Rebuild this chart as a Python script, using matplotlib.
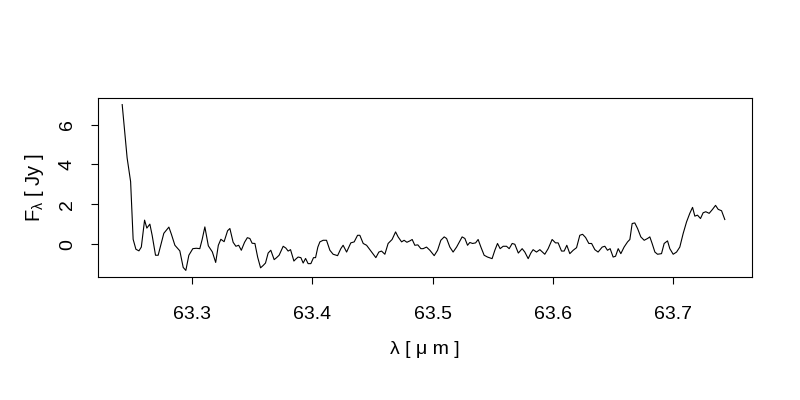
import numpy as np
import matplotlib
matplotlib.use("Agg")
import matplotlib.pyplot as plt

# Spectrum (wavelength in micron, flux in Jy)
wavelength = [
    63.2421, 63.2462, 63.2491, 63.2512, 63.2535, 63.2560, 63.2580, 63.2607, 63.2626, 63.2651,
    63.2670, 63.2698, 63.2720, 63.2767, 63.2809, 63.2830, 63.2859, 63.2900, 63.2928, 63.2950,
    63.2975, 63.3008, 63.3037, 63.3066, 63.3086, 63.3108, 63.3137, 63.3170, 63.3198, 63.3220,
    63.3241, 63.3268, 63.3297, 63.3316, 63.3343, 63.3366, 63.3389, 63.3411, 63.3438, 63.3461,
    63.3482, 63.3501, 63.3524, 63.3547, 63.3571, 63.3593, 63.3612, 63.3634, 63.3656, 63.3684,
    63.3704, 63.3725, 63.3759, 63.3781, 63.3800, 63.3820, 63.3848, 63.3864, 63.3883, 63.3906,
    63.3925, 63.3945, 63.3966, 63.3989, 63.4011, 63.4028, 63.4047, 63.4064, 63.4091, 63.4119,
    63.4147, 63.4174, 63.4211, 63.4238, 63.4257, 63.4286, 63.4321, 63.4349, 63.4377, 63.4396,
    63.4424, 63.4452, 63.4479, 63.4507, 63.4529, 63.4554, 63.4576, 63.4604, 63.4631, 63.4664,
    63.4693, 63.4714, 63.4743, 63.4764, 63.4787, 63.4812, 63.4831, 63.4853, 63.4878, 63.4903,
    63.4922, 63.4950, 63.4978, 63.5014, 63.5042, 63.5069, 63.5097, 63.5117, 63.5144, 63.5171,
    63.5200, 63.5219, 63.5246, 63.5269, 63.5291, 63.5310, 63.5333, 63.5358, 63.5379, 63.5402,
    63.5429, 63.5457, 63.5495, 63.5518, 63.5540, 63.5562, 63.5587, 63.5615, 63.5637, 63.5662,
    63.5684, 63.5713, 63.5745, 63.5767, 63.5795, 63.5817, 63.5836, 63.5864, 63.5892, 63.5933,
    63.5961, 63.5994, 63.6022, 63.6044, 63.6072, 63.6094, 63.6116, 63.6141, 63.6169, 63.6197,
    63.6224, 63.6247, 63.6272, 63.6299, 63.6322, 63.6349, 63.6376, 63.6410, 63.6432, 63.6454,
    63.6476, 63.6501, 63.6521, 63.6543, 63.6565, 63.6592, 63.6621, 63.6640, 63.6659, 63.6681,
    63.6704, 63.6731, 63.6759, 63.6787, 63.6806, 63.6825, 63.6848, 63.6870, 63.6903, 63.6925,
    63.6953, 63.6972, 63.7000, 63.7028, 63.7055, 63.7083, 63.7111, 63.7138, 63.7161, 63.7180,
    63.7202, 63.7227, 63.7249, 63.7271, 63.7299, 63.7327, 63.7352, 63.7374, 63.7402, 63.7429,
]

flux = [
    7.00, 4.33, 3.14, 0.25, -0.25, -0.33, -0.14, 1.21, 0.81, 1.01,
    0.45, -0.55, -0.55, 0.55, 0.86, 0.50, -0.05, -0.33, -1.16, -1.31,
    -0.55, -0.22, -0.20, -0.22, 0.25, 0.87, -0.08, -0.38, -0.91, -0.05,
    0.25, 0.13, 0.68, 0.79, 0.10, -0.10, -0.05, -0.30, 0.10, 0.33,
    0.29, 0.05, 0.04, -0.65, -1.18, -1.06, -0.94, -0.44, -0.30, -0.77,
    -0.67, -0.55, -0.10, -0.19, -0.34, -0.27, -0.84, -0.74, -0.64, -0.67,
    -0.94, -0.71, -0.97, -0.97, -0.67, -0.67, -0.14, 0.12, 0.20, 0.20,
    -0.30, -0.50, -0.57, -0.22, -0.05, -0.39, 0.07, 0.12, 0.45, 0.45,
    0.04, -0.05, -0.27, -0.50, -0.67, -0.39, -0.34, -0.50, 0.04, 0.24,
    0.62, 0.37, 0.12, 0.20, 0.10, 0.17, 0.24, -0.05, -0.03, -0.22,
    -0.22, -0.14, -0.30, -0.57, -0.30, 0.20, 0.37, 0.29, -0.14, -0.39,
    -0.14, 0.07, 0.37, 0.29, -0.05, 0.09, 0.04, 0.07, 0.24, -0.14,
    -0.55, -0.64, -0.72, -0.30, 0.04, -0.22, -0.10, -0.10, -0.22, 0.04,
    0.00, -0.44, -0.22, -0.39, -0.72, -0.44, -0.27, -0.39, -0.27, -0.50,
    -0.22, 0.24, 0.07, 0.07, -0.34, -0.34, -0.05, -0.47, -0.30, -0.17,
    0.45, 0.50, 0.34, 0.04, 0.04, -0.27, -0.39, -0.14, -0.10, -0.30,
    -0.22, -0.64, -0.60, -0.22, -0.47, -0.14, 0.12, 0.24, 1.04, 1.07,
    0.79, 0.37, 0.20, 0.29, 0.37, 0.04, -0.39, -0.50, -0.47, 0.04,
    0.17, -0.22, -0.50, -0.39, -0.14, 0.54, 1.12, 1.55, 1.85, 1.41,
    1.46, 1.29, 1.58, 1.63, 1.55, 1.75, 1.95, 1.75, 1.68, 1.24,
]

x_ticks = [63.3, 63.4, 63.5, 63.6, 63.7]
y_ticks = [0, 2, 4, 6]

plt.rcParams["font.family"] = ["Liberation Sans", "DejaVu Sans"]
plt.rcParams["mathtext.fontset"] = "custom"
plt.rcParams["mathtext.rm"] = "Liberation Sans"
plt.rcParams["mathtext.it"] = "Liberation Sans"

fig = plt.figure(figsize=(8, 4), dpi=100)
ax = fig.add_axes([0.1225, 0.3075, 0.8175, 0.4475])

ax.plot(wavelength, flux, color="black", linewidth=0.8)

# R-style limits: 4% padding around the data
ax.set_xlim(63.222, 63.7655)
ax.set_ylim(-1.64, 7.33)

ax.set_xticks(x_ticks)
ax.set_xticklabels([f"{t:.1f}" for t in x_ticks])
ax.set_yticks(y_ticks)
ax.set_yticklabels([str(t) for t in y_ticks], rotation=90, va="center")

ax.tick_params(axis="both", direction="out", length=5, width=0.8, labelsize=14, colors="black")
ax.tick_params(axis="x", pad=16)
ax.tick_params(axis="y", pad=11)

for s in ax.spines.values():
    s.set_linewidth(0.8)
    s.set_color("black")

ax.set_xlabel("λ [ μ m ]", fontsize=14, labelpad=13)
ax.set_ylabel(r"F$_{\lambda}$ [ Jy ]", fontsize=14.5, labelpad=9)

fig.savefig("out.png", dpi=100, facecolor="white")
